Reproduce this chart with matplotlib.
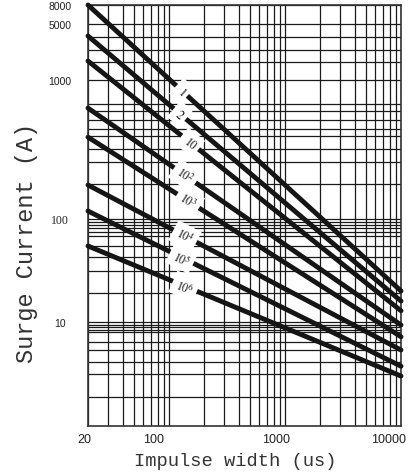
import matplotlib.pyplot as plt
import numpy as np
from matplotlib.ticker import FixedLocator, NullFormatter
from matplotlib.transforms import ScaledTranslation

plt.rcParams['mathtext.fontset'] = 'stix'

# one curve per number of pulses
pulses = ['$1$', '$2$', '$10$', '$10^2$', '$10^3$', '$10^4$', '$10^5$', '$10^6$']
width_range = [20, 10000]          # impulse width at both ends of each curve (us)
current_start = [8000, 4070, 2070, 840, 490, 196, 117, 40]   # A at 20 us
current_end = [15.4, 13.4, 11.7, 9.0, 5.5, 4.0, 2.6, 1.95]   # A at 10000 us
label_width = [129, 124, 152, 137, 146, 137, 129, 137]       # where the pulse count sits

x_ticks = [20, 100, 1000, 10000]
x_tick_labels = ['20', '100', '1000', '10000']
x_minor = [30, 40, 50, 60, 70, 80, 90,
           200, 300, 400, 500, 600, 700, 800, 900,
           2000, 3000, 4000, 5000, 6000, 7000, 8000, 9000]

y_ticks = [10, 100, 1000, 5000, 8000]
y_tick_labels = ['10', '100', '1000', '5000', '8000']

# the printed current axis is not a clean log axis: calibrate it on its grid lines
y_cal_values = [1, 1.5, 2, 3, 4, 5, 6, 7, 8, 9, 10, 15, 20, 30, 40, 50, 60, 70, 80, 90,
                100, 200, 300, 400, 500, 600, 700, 800, 900, 1000, 2000, 3000, 4000, 5000, 8000]
y_cal_height = [0, 29, 52, 64, 76, 84, 94, 96, 99, 101, 104, 133, 155, 169, 180, 190, 194, 198,
                201, 204, 207, 242, 264, 277, 290, 297, 306, 315, 322, 346, 364, 376, 389, 402, 421]
log_cal = np.log10(y_cal_values)


def fwd(v):
    v = np.clip(np.asarray(v, dtype=float), 1e-6, None)
    return np.interp(np.log10(v), log_cal, y_cal_height)


def inv(h):
    return 10 ** np.interp(h, y_cal_height, log_cal)


fig = plt.figure(figsize=(4.17, 4.77), dpi=100)
ax = fig.add_axes([88 / 417, 50 / 477, 313 / 417, 421 / 477])

ax.set_xscale('log')
ax.set_yscale('function', functions=(fwd, inv))
ax.set_xlim(width_range)
ax.set_ylim(1, 8000)

ax.xaxis.set_major_locator(FixedLocator(x_ticks))
ax.xaxis.set_minor_locator(FixedLocator(x_minor))
ax.xaxis.set_minor_formatter(NullFormatter())
ax.set_xticklabels(x_tick_labels)

y_minor = [v for v in y_cal_values if v not in y_ticks and v != 1]
ax.yaxis.set_major_locator(FixedLocator(y_ticks))
ax.yaxis.set_minor_locator(FixedLocator(y_minor))
ax.yaxis.set_minor_formatter(NullFormatter())
ax.set_yticklabels(y_tick_labels)

ax.grid(True, which='both', color='#1a1a1a', lw=0.9)
ax.tick_params(which='both', length=0)
ax.tick_params(axis='x', pad=5, labelsize=9, labelcolor='#222')
ax.tick_params(axis='y', pad=20, labelsize=7.5, labelcolor='#222')
for sp in ax.spines.values():
    sp.set_color('#333')
    sp.set_linewidth(1.2)

# tick labels sit a little left of their grid lines in the printed chart
x_shift = [-4, -15, -9, -12]
for lab, dx in zip(ax.get_xticklabels(), x_shift):
    lab.set_fontfamily('Liberation Sans')
    lab.set_transform(lab.get_transform() + ScaledTranslation(dx / 100, 0, fig.dpi_scale_trans))
for lab, txt in zip(ax.get_yticklabels(), y_tick_labels):
    lab.set_horizontalalignment('center')
    lab.set_fontfamily('Liberation Serif' if txt == '100' else 'Liberation Sans')
    if txt == '100':
        lab.set_fontsize(8.5)

for p, y0, y1, xl in zip(pulses, current_start, current_end, label_width):
    ax.plot(width_range, [y0, y1], color='#151515', lw=3.5,
            solid_capstyle='round', clip_on=False, zorder=3)
    # place the pulse count on the line, turned along it
    p0 = ax.transData.transform((width_range[0], y0))
    p1 = ax.transData.transform((width_range[1], y1))
    px = ax.transData.transform((xl, y0))[0]
    t = (px - p0[0]) / (p1[0] - p0[0])
    py = p0[1] + t * (p1[1] - p0[1])
    ang = np.degrees(np.arctan2(p1[1] - p0[1], p1[0] - p0[0]))
    xd, yd = ax.transData.inverted().transform((px, py))
    ax.text(xd, yd, p, fontsize=8.5, rotation=ang, rotation_mode='anchor',
            ha='center', va='center', color='#111', zorder=4,
            bbox=dict(boxstyle='square,pad=0.35', fc='white', ec='none'))

ax.set_xlabel('Impulse width (us)', fontfamily='Liberation Mono', fontsize=13.5,
              color='#333', va='center')
ax.xaxis.set_label_coords(0.47, -0.083)
ax.set_ylabel('Surge Current (A)', fontfamily='Liberation Mono', fontsize=17,
              color='#333', va='center')
ax.yaxis.set_label_coords(-0.198, 0.437)

fig.savefig('out.png', dpi=100, facecolor='white')
